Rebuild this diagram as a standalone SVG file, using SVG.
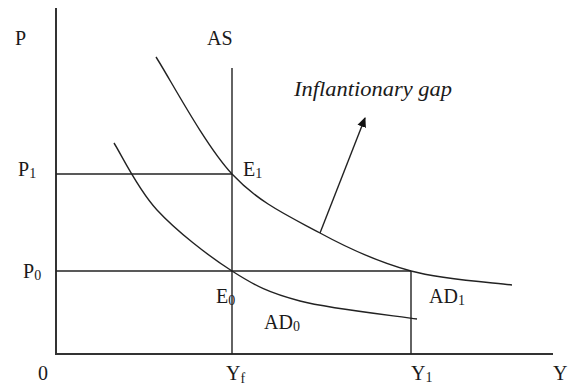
<svg xmlns="http://www.w3.org/2000/svg" width="568" height="388" viewBox="0 0 568 388">
<style>
text{font-family:"Liberation Serif","Times New Roman",serif;font-size:20px;fill:#1a1a1a}
.sub{font-size:14px}
.it{font-style:italic;font-size:21px}
.axis{stroke:#333;stroke-width:2;fill:none}
.ln{stroke:#222;stroke-width:1.4;fill:none}
</style>
<defs>
<marker id="ah" markerWidth="10" markerHeight="10" refX="9" refY="5" orient="auto" markerUnits="userSpaceOnUse"><path d="M0,0.5 L10,5 L0,9.5 z" fill="#111"/></marker>
</defs>
<rect width="568" height="388" fill="#fff"/>
<g id="axes">
<line class="axis" x1="56" y1="8" x2="56" y2="355"/>
<line class="axis" x1="55" y1="354" x2="553" y2="354"/>
<text x="15" y="45">P</text>
<text x="553" y="380">Y</text>
<text x="38" y="380">0</text>
</g>
<g id="AS">
<line class="ln" x1="232" y1="68" x2="232" y2="354"/>
<text x="207" y="45">AS</text>
</g>
<g id="AD0">
<path class="ln" d="M114,143 C121.2,154.2 137.3,188.7 157,210 C176.7,231.3 208.2,255.8 232,271 C255.8,286.2 269.2,293 300,301 C330.8,309 397.5,316 417,319"/>
<text x="264" y="329">AD<tspan class="sub" dy="2">0</tspan></text>
</g>
<g id="AD1">
<path class="ln" d="M156,57 C168.7,76.5 204.7,144.7 232,174 C259.3,203.3 290.2,216.8 320,233 C349.8,249.2 379,262.3 411,271 C443,279.7 495.2,282.7 512,285"/>
<text x="429" y="303">AD<tspan class="sub" dy="2">1</tspan></text>
</g>
<g id="P1">
<line class="ln" x1="56" y1="174" x2="232" y2="174"/>
<text x="18" y="176">P<tspan class="sub" dy="2">1</tspan></text>
</g>
<g id="P0">
<line class="ln" x1="56" y1="271" x2="411" y2="271"/>
<text x="23" y="278">P<tspan class="sub" dy="2">0</tspan></text>
</g>
<g id="E1">
<text x="243" y="176">E<tspan class="sub" dy="2">1</tspan></text>
</g>
<g id="E0">
<text x="216" y="303">E<tspan class="sub" dy="2">0</tspan></text>
</g>
<g id="Yf">
<text x="226" y="380">Y<tspan class="sub" dy="3">f</tspan></text>
</g>
<g id="Y1">
<line class="ln" x1="411" y1="271" x2="411" y2="354"/>
<text x="411" y="380">Y<tspan class="sub" dy="2">1</tspan></text>
</g>
<g id="gap">
<text class="it" x="294" y="96" textLength="158" lengthAdjust="spacingAndGlyphs">Inflantionary gap</text>
</g>
<g id="connectors">
<line class="ln" x1="320" y1="233" x2="365" y2="118" marker-end="url(#ah)"/>
</g>
</svg>
